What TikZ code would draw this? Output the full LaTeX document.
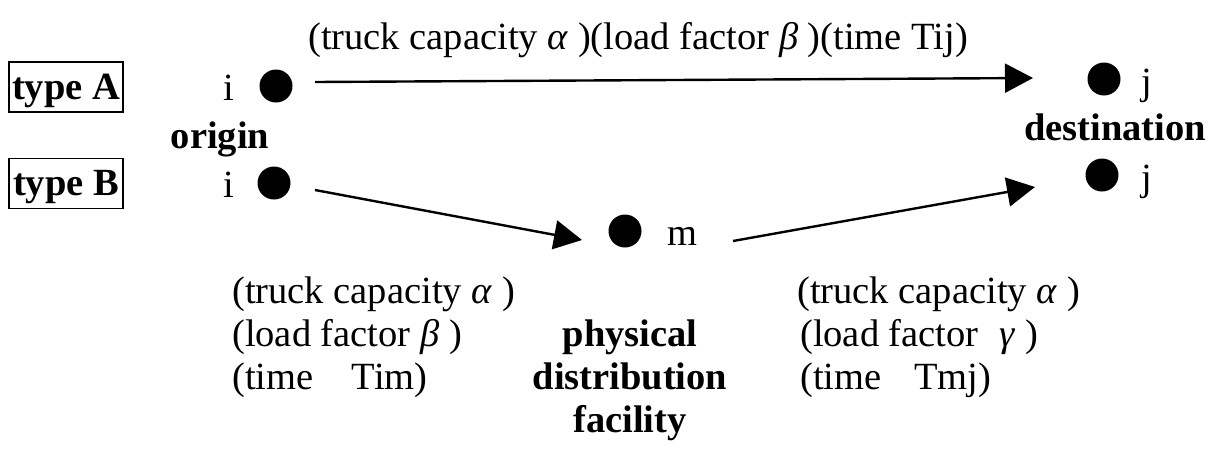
\documentclass[tikz,border=0pt]{standalone}
\usepackage{fontspec}
\setmainfont{Liberation Serif}
\usetikzlibrary{arrows.meta, positioning, calc}
\tikzset{
  txt/.style={font=\fontsize{38.5pt}{43pt}\selectfont, inner sep=0pt},
  boldtxt/.style={font=\fontsize{38.5pt}{43pt}\selectfont\bfseries, inner sep=0pt},
  typebox/.style={rectangle, draw, line width=1.2pt,
    font=\fontsize{38.5pt}{43pt}\selectfont\bfseries,
    minimum width=114pt, inner xsep=3pt, inner ysep=7pt,
    text height=30pt, text depth=6pt},
  site/.style={circle, fill=black, minimum size=33pt, inner sep=0pt},
  flow/.style={-{Triangle[length=28pt, width=29pt]}, line width=2.4pt}
}

\begin{document}
\begin{tikzpicture}[x=1pt, y=-1pt]
  \useasboundingbox (0,0) rectangle (1211,448);

  \node (typeA) [typebox] at (66,87) {type A};
  \node (typeB) [typebox] at (66,183.5) {type B};

  \node (oA) [site] at (276,86) {};
  \node (oB) [site] at (274,183) {};
  \node (dA) [site] at (1104,79) {};
  \node (dB) [site] at (1102,175) {};
  \node (pdf) [site] at (625,231) {};

  \node (iA) [txt, anchor=base] at (229,100) {i};
  \node (iB) [txt, anchor=base] at (229,197) {i};
  \node (jA) [txt, anchor=base west] at (1141,94) {j};
  \node (jB) [txt, anchor=base west] at (1141,190) {j};
  \node (mlbl) [txt, anchor=base west] at (667,245) {m};
  \node (origin) [boldtxt, anchor=base] at (220,148) {origin};
  \node (dest) [boldtxt, anchor=base] at (1115,140) {destination};

  \node (topcond) [txt, anchor=base west] at (308,49)
    {(truck capacity \textit{α} )(load factor \textit{β} )(time Tij)};

  \node (imcap) [txt, anchor=base west] at (232,303) {(truck capacity \textit{α} )};
  \node (imload) [txt, anchor=base west] at (232,346) {(load factor \textit{β} )};
  \node (imtime) [txt, anchor=base west] at (232,389) {(time\hspace{0.75em} Tim)};

  \node (pdf1) [boldtxt, anchor=base] at (630,346) {physical};
  \node (pdf2) [boldtxt, anchor=base] at (630,389) {distribution};
  \node (pdf3) [boldtxt, anchor=base] at (630,432) {facility};

  \node (mjcap) [txt, anchor=base west] at (797,303) {(truck capacity \textit{α} )};
  \node (mjload) [txt, anchor=base west] at (800,346) {(load factor\hspace{0.3em} \textit{γ} )};
  \node (mjtime) [txt, anchor=base west] at (800,389) {(time\hspace{0.6em} Tmj)};

  \draw [flow] ($(oA)+(39,-4)$) -- ($(dA)+(-71,-1)$);
  \draw [flow] ($(oB)+(41,7)$) -- ($(pdf)+(-43,9)$);
  \draw [flow] ($(pdf)+(108,10)$) -- ($(dB)+(-67,12)$);
\end{tikzpicture}
\end{document}
